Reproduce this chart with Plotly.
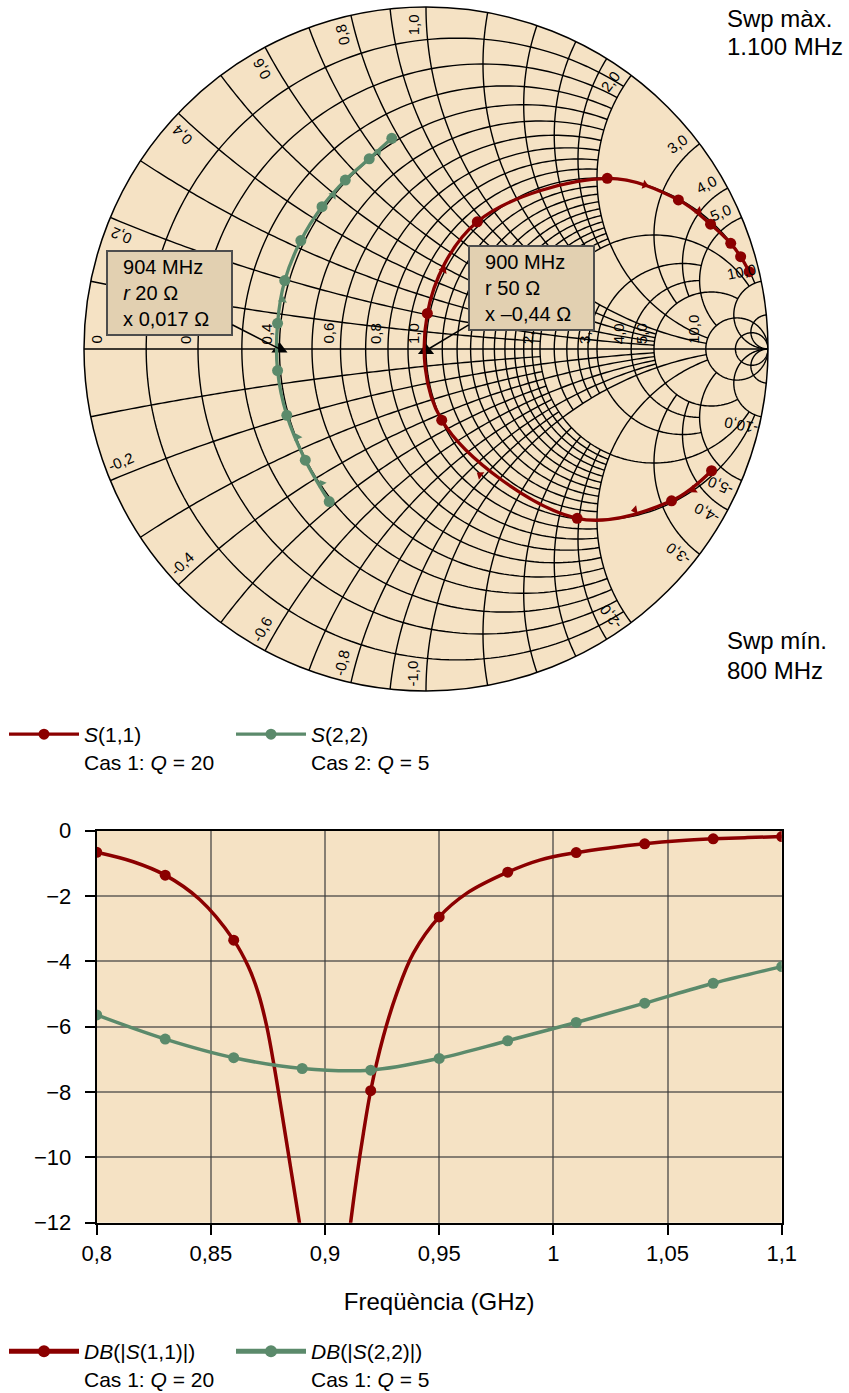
import numpy as np
import plotly.graph_objects as go

W, H = 849, 1393
BG = '#f5e2c4'
RED = '#8b0000'
GREEN = '#5b8a6b'
FONT = 'Liberation Sans, Arial, sans-serif'
NB = '\u00a0'

# ---------------------------------------------------------------------------
# Smith chart data: reflection coefficients at the sweep markers (800 -> 1100 MHz)
s11_re = [0.835, 0.718, 0.442, 0.046, 0.004, 0.150, 0.530, 0.738, 0.832, 0.891, 0.920, 0.945]
s11_im = [-0.356, -0.444, -0.495, -0.208, 0.104, 0.372, 0.499, 0.436, 0.365, 0.309, 0.270, 0.226]

s22_re = [-0.283, -0.353, -0.407, -0.434, -0.434, -0.413, -0.366, -0.304, -0.236, -0.166, -0.100]
s22_im = [-0.446, -0.325, -0.194, -0.063, 0.075, 0.200, 0.317, 0.416, 0.494, 0.556, 0.616]

# sweep-direction arrows: position on the trace and the marker interval they sit in
s11_arrow_re = [0.782, 0.611, 0.158, 0.051, 0.640, 0.797]
s11_arrow_im = [-0.412, -0.471, -0.368, 0.231, 0.480, 0.404]
s11_arrow_seg = [0, 1, 2, 4, 6, 7]
s22_arrow_re = [-0.305, -0.376, -0.419, -0.271, -0.139]
s22_arrow_im = [-0.393, -0.258, 0.143, 0.450, 0.577]
s22_arrow_seg = [0, 1, 4, 7, 9]

# marker readouts (ohms)
Z0 = 50.0
mk_freq = ['900 MHz', '904 MHz']
mk_r_ohm = [50.0, 20.0]
mk_x_ohm = [-0.44, 0.017]

# ---------------------------------------------------------------------------
# Return-loss data (GHz, dB)
s11_f = [0.800, 0.816, 0.830, 0.845, 0.860, 0.8664, 0.8708, 0.8745, 0.8777, 0.8810,
         0.8849, 0.8888, 0.890, 0.894, 0.897, 0.900, 0.903, 0.906, 0.909, 0.9112,
         0.9139, 0.9168, 0.920, 0.9255, 0.9314, 0.9387, 0.950, 0.962, 0.980, 0.994,
         1.010, 1.025, 1.040, 1.055, 1.070, 1.085, 1.100]
s11_db = [-0.66, -0.95, -1.36, -2.10, -3.35, -4.16, -4.98, -6.00, -7.20, -8.60,
          -10.30, -12.0, -12.5, -15.5, -20.0, -32.0, -21.0, -16.0, -13.3, -12.0,
          -10.59, -9.26, -7.96, -6.31, -4.98, -3.75, -2.64, -1.92, -1.27, -0.90,
          -0.67, -0.52, -0.40, -0.31, -0.25, -0.21, -0.18]
mk_f = [0.80, 0.83, 0.86, 0.89, 0.92, 0.95, 0.98, 1.01, 1.04, 1.07, 1.10]
s22_db = [-5.64, -6.38, -6.95, -7.28, -7.33, -6.97, -6.43, -5.87, -5.28, -4.67, -4.16]

# axis labels
r_ticks = [0, 0.2, 0.4, 0.6, 0.8, 1.0, 2.0, 3.0, 4.0, 5.0, 10.0]
x_ticks = [0.2, 0.4, 0.6, 0.8, 1.0, 2.0, 3.0, 4.0, 5.0, 10.0]

# Smith grid: (value, extent of the other coordinate)
INF = np.inf
res_grid = [(v, 2.0) for v in (0.1, 0.2, 0.3, 0.4, 0.5, 0.6, 0.7, 0.8, 0.9)] + \
           [(1.0, 10.0)] + \
           [(v, 2.0) for v in (1.1, 1.2, 1.3, 1.4, 1.5, 1.6, 1.7, 1.8, 1.9)] + \
           [(2.0, 10.0)] + \
           [(v, 1.0) for v in (2.2, 2.4, 2.6, 2.8)] + \
           [(3.0, 5.0), (4.0, 5.0), (5.0, 10.0), (10.0, INF), (20.0, INF)]
rea_grid = [(v, 2.0) for v in (0.1, 0.3, 0.5, 0.7, 0.9)] + \
           [(v, 5.0) for v in (0.2, 0.4, 0.6, 0.8)] + \
           [(1.0, 10.0), (1.2, 2.0), (1.4, 2.0), (1.6, 2.0), (1.8, 2.0), (2.0, 10.0),
            (3.0, 5.0), (4.0, 5.0), (5.0, 10.0), (10.0, INF), (20.0, INF)]


def z_of(gre, gim):
    g = np.asarray(gre) + 1j * np.asarray(gim)
    return (1 + g) / (1 - g)


def res_arc(r, xlim, n=160):
    amax = np.pi / 2 * 0.9995 if np.isinf(xlim) else np.arctan(xlim / (r + 1))
    a = np.linspace(-amax, amax, n)
    return np.full(n, r), (r + 1) * np.tan(a)


def rea_arc(x, rlim, n=120):
    a0 = np.arctan2(abs(x), 1.0)
    a1 = 1e-3 if np.isinf(rlim) else np.arctan2(abs(x), rlim + 1)
    a = np.linspace(a0, a1, n)
    return abs(x) / np.tan(a) - 1, np.full(n, x)


gr, gi = [], []
for r, xl in res_grid:
    rr, xx = res_arc(r, xl)
    gr += list(rr) + [None]
    gi += list(xx) + [None]
for x, rl in rea_grid:
    for s in (1, -1):
        rr, xx = rea_arc(s * x, rl)
        gr += list(rr) + [None]
        gi += list(xx) + [None]
# real axis
gr += [0.0, 1e5]
gi += [0.0, 0.0]

fig = go.Figure()
fig.add_trace(go.Scattersmith(real=gr, imag=gi, mode='lines', line=dict(color='black', width=1.4),
                              hoverinfo='skip', showlegend=False))

# marker triangles sit under the traces
zm = (np.array(mk_r_ohm) + 1j * np.array(mk_x_ohm)) / Z0
fig.add_trace(go.Scattersmith(real=zm.real, imag=zm.imag, mode='markers',
                              marker=dict(symbol='triangle-up', size=14, color='black'),
                              text=mk_freq, showlegend=False))

z11 = z_of(s11_re, s11_im)
z22 = z_of(s22_re, s22_im)
fig.add_trace(go.Scattersmith(real=z11.real, imag=z11.imag, mode='lines+markers',
                              name='<i>S</i>(1,1)<br>Cas 1: <i>Q</i> = 20',
                              line=dict(color=RED, width=3.3, shape='spline'),
                              marker=dict(color=RED, size=11), legend='legend'))
fig.add_trace(go.Scattersmith(real=z22.real, imag=z22.imag, mode='lines+markers',
                              name='<i>S</i>(2,2)<br>Cas 2: <i>Q</i> = 5',
                              line=dict(color=GREEN, width=3.3, shape='spline'),
                              marker=dict(color=GREEN, size=11), legend='legend'))


def arrow_angles(gre, gim, seg):
    g = np.asarray(gre) + 1j * np.asarray(gim)
    d = g[np.asarray(seg) + 1] - g[np.asarray(seg)]
    return np.degrees(np.arctan2(d.real, d.imag))


for are, aim, seg, src_re, src_im, col in (
        (s11_arrow_re, s11_arrow_im, s11_arrow_seg, s11_re, s11_im, RED),
        (s22_arrow_re, s22_arrow_im, s22_arrow_seg, s22_re, s22_im, GREEN)):
    za = z_of(are, aim)
    fig.add_trace(go.Scattersmith(real=za.real, imag=za.imag, mode='markers',
                                  marker=dict(symbol='triangle-up', size=8, color=col,
                                              angle=arrow_angles(src_re, src_im, seg)),
                                  hoverinfo='skip', showlegend=False))

# return-loss traces
s11_mk_size = [11 if any(abs(f - m) < 1e-6 for m in mk_f) else 0 for f in s11_f]
fig.add_trace(go.Scatter(x=s11_f, y=s11_db, mode='lines+markers',
                         name='<i>DB</i>(|<i>S</i>(1,1)|)<br>Cas 1: <i>Q</i> = 20',
                         line=dict(color=RED, width=3.5, shape='spline'),
                         marker=dict(color=RED, size=s11_mk_size, opacity=1, line=dict(width=0)),
                         legend='legend2', xaxis='x', yaxis='y'))
fig.add_trace(go.Scatter(x=mk_f, y=s22_db, mode='lines+markers',
                         name='<i>DB</i>(|<i>S</i>(2,2)|)<br>Cas 1: <i>Q</i> = 5',
                         line=dict(color=GREEN, width=3.5, shape='spline'),
                         marker=dict(color=GREEN, size=11, opacity=1, line=dict(width=0)),
                         legend='legend2', xaxis='x', yaxis='y'))

# ---------------------------------------------------------------------------
sx = [84 / W, 768 / W]
sy = [1 - 691 / H, 1 - 7 / H]
px0, px1 = 96.7 / W, 781.7 / W
py0, py1 = 1 - 1222.7 / H, 1 - 830.7 / H

ann = []
# resistance labels along the real axis
for r in r_ticks:
    g = (r - 1) / (r + 1)
    txt = '0' if r == 0 else f'{r:.1f}'.replace('.', ',')
    ann.append(dict(x=g, y=0, xref='x2', yref='y2', text=txt, showarrow=False,
                    textangle=-90, xanchor='left' if r == 0 else 'right', yanchor='bottom',
                    xshift=1 if r == 0 else -2, yshift=3, font=dict(size=15, color='black')))
# reactance labels inside the rim
for xv in x_ticks:
    th = np.pi - 2 * np.arctan(xv)
    d = np.radians(2.3)
    rad = 0.95
    for s in (1, -1):
        phi = s * (th + d)
        ang = -np.degrees(th) if s > 0 else np.degrees(th) - 180
        txt = f'{xv:.1f}'.replace('.', ',')
        if s < 0:
            txt = '-' + txt
        ann.append(dict(x=rad * np.cos(phi), y=rad * np.sin(phi), xref='x2', yref='y2', text=txt,
                        showarrow=False, textangle=ang, xanchor='center', yanchor='middle',
                        font=dict(size=15, color='black')))

# marker readout boxes
gm = (zm - 1) / (zm + 1)
box_c = [(0.3076, 0.1798), (-0.7494, 0.1643)]
box_lines = [['900 MHz', 'r 50 Ω', 'x –0,44 Ω'], ['904 MHz', '<i>r</i> 20 Ω', 'x 0,017 Ω']]
for k in range(2):
    txt = '<br>'.join(NB * 2 + s for s in box_lines[k])
    ann.append(dict(x=gm[k].real, y=gm[k].imag, xref='x2', yref='y2',
                    ax=box_c[k][0], ay=box_c[k][1], axref='x2', ayref='y2',
                    text=txt, showarrow=True, arrowhead=0, arrowwidth=1.5,
                    arrowcolor='black', align='left', width=115, borderpad=4,
                    bgcolor='#e2d0b1', bordercolor='#4d4d4d', borderwidth=2,
                    font=dict(size=20, color='black')))

# sweep limits
for txt, yc in (('Swp màx.', 19), ('1.100 MHz', 46), ('Swp mín.', 640), ('800 MHz', 670)):
    ann.append(dict(x=725 / W, y=1 - yc / H, xref='paper', yref='paper', xanchor='left',
                    yanchor='middle', text=txt, showarrow=False,
                    font=dict(size=24, color='black')))

axis_common = dict(showline=True, linecolor='black', linewidth=2, mirror=True,
                   ticks='outside', ticklen=10, tickwidth=1.5, tickcolor='black',
                   showgrid=True, gridcolor='rgba(60,60,60,0.6)', gridwidth=2,
                   zeroline=False, tickfont=dict(size=22, color='black'))

fig.update_layout(
    width=W, height=H, margin=dict(l=0, r=0, t=0, b=0, autoexpand=False),
    paper_bgcolor='white', plot_bgcolor='rgba(0,0,0,0)',
    font=dict(family=FONT, color='black'),
    separators=',.',
    smith=dict(domain=dict(x=sx, y=sy), bgcolor=BG,
               realaxis=dict(showgrid=False, showticklabels=False, ticks='', showline=False),
               imaginaryaxis=dict(showgrid=False, showticklabels=False, ticks='',
                                  showline=True, linecolor='black', linewidth=1.5)),
    xaxis=dict(domain=[px0, px1], range=[0.8, 1.1], tick0=0.8, dtick=0.05, anchor='y',
               title=dict(text='Freqüència (GHz)', font=dict(size=24), standoff=28), **axis_common),
    yaxis=dict(domain=[py0, py1], range=[-12, 0], dtick=2, anchor='x', ticklabelstandoff=9,
               **axis_common),
    xaxis2=dict(domain=sx, range=[-1, 1], visible=False, anchor='y2', fixedrange=True),
    yaxis2=dict(domain=sy, range=[-1, 1], visible=False, anchor='x2', fixedrange=True),
    annotations=ann,
    shapes=[dict(type='rect', xref='x domain', yref='y domain', x0=0, x1=1, y0=0, y1=1,
                 fillcolor=BG, line=dict(width=0), layer='below')],
    legend=dict(x=4 / W, y=1 - 714 / H, xanchor='left', yanchor='top', orientation='h',
                itemwidth=70, entrywidth=142, valign='top', font=dict(size=21),
                bgcolor='rgba(0,0,0,0)'),
    legend2=dict(x=4 / W, y=1 - 1331 / H, xanchor='left', yanchor='top', orientation='h',
                 itemwidth=70, entrywidth=142, valign='top', font=dict(size=21),
                 itemsizing='constant', bgcolor='rgba(0,0,0,0)'),
)

fig.write_html('out.html')
